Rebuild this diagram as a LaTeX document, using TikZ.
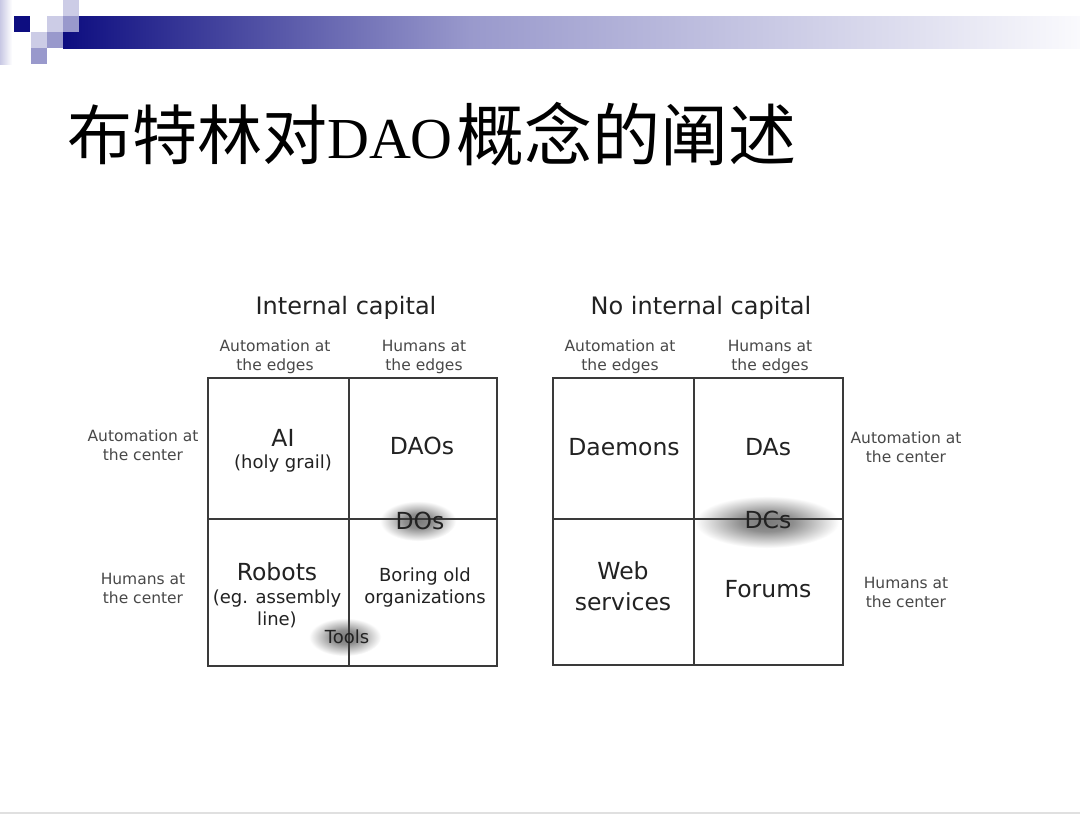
\documentclass[tikz,border=0pt]{standalone}
\usepackage{fontspec}
\setmainfont{Liberation Serif}
\newfontfamily\cjk{Noto Sans CJK SC}
\newfontfamily\dv{DejaVu Sans}
\definecolor{navybar}{HTML}{0D0D80}
\definecolor{midbar}{HTML}{9999CC}
\definecolor{endbar}{HTML}{FAFAFD}
\definecolor{lightsq}{HTML}{CCCCE6}
\definecolor{medsq}{HTML}{9999CC}
\definecolor{gridc}{HTML}{3A3A3A}
\definecolor{txtdark}{HTML}{222222}
\definecolor{txtsmall}{HTML}{484848}
\definecolor{blobc}{HTML}{7A7A7A}
\definecolor{stripc}{HTML}{C8C8E4}
\pgfdeclarehorizontalshading{barshade}{100bp}{color(0bp)=(navybar); color(25bp)=(navybar); color(45bp)=(midbar); color(75bp)=(endbar); color(100bp)=(endbar)}
\pgfdeclarehorizontalshading{stripshade}{100bp}{color(0bp)=(stripc); color(25bp)=(stripc); color(75bp)=(white); color(100bp)=(white)}
\pgfdeclareradialshading{blob}{\pgfpoint{0bp}{0bp}}{color(0bp)=(blobc); color(9bp)=(blobc!85!white); color(25bp)=(white); color(50bp)=(white)}
\begin{document}
\begin{tikzpicture}[x=1pt,y=-1pt,
  gridline/.style={draw=gridc,line width=1.8pt},
  smalllbl/.style={font=\dv\fontsize{15.5}{19}\selectfont,text=txtsmall,align=center,inner sep=0pt},
  biglbl/.style={font=\dv\fontsize{23.5}{31}\selectfont,text=txtdark,align=center,inner sep=0pt},
  medlbl/.style={font=\dv\fontsize{18}{22.5}\selectfont,text=txtdark,align=center,inner sep=0pt},
  headlbl/.style={font=\dv\fontsize{24}{28}\selectfont,text=txtdark,inner sep=0pt},
  titlepart/.style={inner sep=0pt,text=black},
  blobshape/.style={shading=blob}]
\useasboundingbox (0,0) rectangle (1080,814);
\fill[white] (0,0) rectangle (1080,814);
% header decoration
\shade[shading=stripshade] (0,0) rectangle (12,64);
\shade[shading=barshade] (63,16) rectangle (1080,48);
\fill[navybar] (14,16) rectangle (30,32);
\fill[lightsq] (47,16) rectangle (63,32);
\fill[lightsq] (63,0) rectangle (79,16);
\fill[medsq] (63,16) rectangle (79,32);
\fill[lightsq] (31,32) rectangle (47,48);
\fill[medsq] (47,32) rectangle (63,48);
\fill[medsq] (31,48) rectangle (47,64);
\fill[black!12] (0,812) rectangle (1080,814);
% title
\node[titlepart,anchor=base west,font=\cjk\fontsize{65}{65}\selectfont] (title1) at (67,159) {布特林对};
\node[titlepart,anchor=base west,font=\fontsize{58}{58}\selectfont] (title2) at (327,158) {DAO};
\node[titlepart,anchor=base east,font=\cjk\fontsize{68}{68}\selectfont] (title3) at (797,160) {概念的阐述};
% blobs
\shade[blobshape] (418,521) ellipse [x radius=38, y radius=20];
\shade[blobshape] (345,637) ellipse [x radius=36, y radius=19];
\shade[blobshape] (767,522) ellipse [x radius=72, y radius=26];
% left grid
\draw[gridline] (208,378) rectangle (497,666);
\draw[gridline] (349,378) -- (349,666);
\draw[gridline] (208,519) -- (497,519);
% right grid
\draw[gridline] (553,378) rectangle (843,665);
\draw[gridline] (694,378) -- (694,665);
\draw[gridline] (553,519) -- (843,519);
% left grid texts
\node[headlbl] (ic) at (346,308) {Internal capital};
\node[smalllbl] (lae) at (275,356.5) {Automation at\\the edges};
\node[smalllbl] (lhe) at (424,356.5) {Humans at\\the edges};
\node[smalllbl] (lac) at (143,445) {Automation at\\the center};
\node[smalllbl] (lhc) at (143,588.5) {Humans at\\the center};
\node[biglbl] (ai) at (283,438) {AI};
\node[medlbl] (hg) at (283,464) {(holy grail)};
\node[biglbl] (daos) at (422,446) {DAOs};
\node[biglbl] (dos) at (420,521) {DOs};
\node[biglbl] (robots) at (277,572) {Robots};
\node[medlbl] (eg) at (277,609) {(eg. assembly\\line)};
\node[medlbl] (boring) at (425,587.5) {Boring old\\organizations};
\node[medlbl] (tools) at (347,637) {Tools};
% right grid texts
\node[headlbl] (nic) at (701,308) {No internal capital};
\node[smalllbl] (rae) at (620,356.5) {Automation at\\the edges};
\node[smalllbl] (rhe) at (770,356.5) {Humans at\\the edges};
\node[biglbl] (daemons) at (624,447) {Daemons};
\node[biglbl] (das) at (768,447) {DAs};
\node[biglbl] (dcs) at (768,520) {DCs};
\node[biglbl] (web) at (623,586.5) {Web\\services};
\node[biglbl] (forums) at (768,589) {Forums};
\node[smalllbl] (rac) at (906,447.5) {Automation at\\the center};
\node[smalllbl] (rhc) at (906,592.5) {Humans at\\the center};
\end{tikzpicture}
\end{document}
